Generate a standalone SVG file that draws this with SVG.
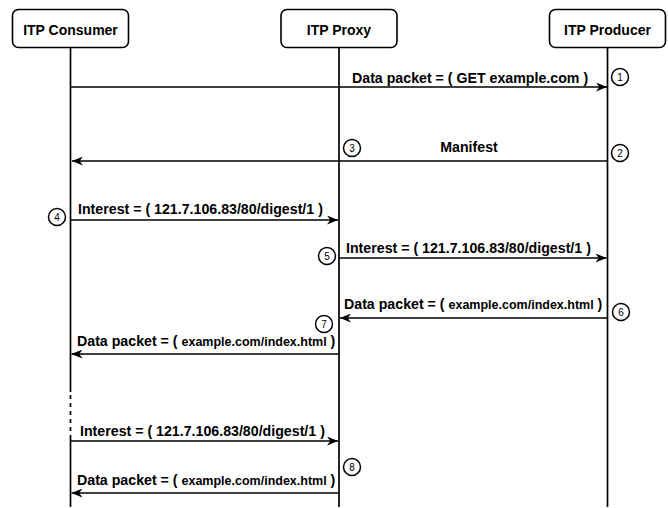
<svg xmlns="http://www.w3.org/2000/svg" width="668" height="508" viewBox="0 0 668 508">
<style>
.box{fill:#fff;stroke:#000;stroke-width:1.6}
.life{stroke:#000;stroke-width:1.7;fill:none}
.dash{stroke:#000;stroke-width:1.7;fill:none;stroke-dasharray:4 4}
.title{font-family:"Liberation Sans",Arial,sans-serif;font-weight:bold;font-size:14px;text-anchor:middle;fill:#000}
.msg{stroke:#000;stroke-width:1.7;fill:none;marker-end:url(#arr)}
.lbl{font-family:"Liberation Sans",Arial,sans-serif;font-weight:bold;font-size:14.2px;fill:#000}
.sm{font-size:12.5px}
.num circle{fill:#fff;stroke:#000;stroke-width:1.5}
.num text{font-family:"Liberation Sans",Arial,sans-serif;font-size:10px;text-anchor:middle;fill:#000}
</style>
<defs>
<marker id="arr" viewBox="0 0 11 9" refX="11" refY="4.5" markerWidth="11" markerHeight="9" markerUnits="userSpaceOnUse" orient="auto">
<path d="M0,0 L11,4.5 L0,9 L3.3,4.5 Z" fill="#000"/>
</marker>
</defs>
<rect width="668" height="508" fill="#fff"/>
<g id="consumer">
<line class="life" x1="70.5" y1="48" x2="70.5" y2="392"/>
<line class="dash" x1="70.5" y1="395" x2="70.5" y2="437"/>
<line class="life" x1="70.5" y1="437" x2="70.5" y2="507"/>
<rect class="box" x="12.5" y="9.5" width="116" height="38" rx="6"/>
<text class="title" x="70.5" y="35">ITP Consumer</text>
</g>
<g id="proxy">
<line class="life" x1="339" y1="48" x2="339" y2="507"/>
<rect class="box" x="281" y="9.5" width="116" height="38" rx="6"/>
<text class="title" x="339" y="35">ITP Proxy</text>
</g>
<g id="producer">
<line class="life" x1="607.5" y1="48" x2="607.5" y2="507"/>
<rect class="box" x="549.5" y="9.5" width="116" height="38" rx="6"/>
<text class="title" x="607.5" y="35">ITP Producer</text>
</g>
<g id="connectors">
<line class="msg" x1="70.5" y1="87" x2="607" y2="87"/>
<text class="lbl" x="352" y="83">Data packet = ( GET example.com )</text>
<line class="msg" x1="607.5" y1="161" x2="72" y2="161"/>
<text class="lbl" x="469" y="152" text-anchor="middle">Manifest</text>
<line class="msg" x1="70.5" y1="220" x2="338" y2="220"/>
<text class="lbl" x="78" y="214">Interest = ( 121.7.106.83/80/digest/1 )</text>
<line class="msg" x1="339" y1="258" x2="606.5" y2="258"/>
<text class="lbl" x="346" y="253">Interest = ( 121.7.106.83/80/digest/1 )</text>
<line class="msg" x1="607.5" y1="318" x2="340" y2="318"/>
<text class="lbl" x="344" y="309">Data packet = ( <tspan class="sm">example.com/index.html</tspan> )</text>
<line class="msg" x1="339" y1="354" x2="71.5" y2="354"/>
<text class="lbl" x="77" y="346">Data packet = ( <tspan class="sm">example.com/index.html</tspan> )</text>
<line class="msg" x1="70.5" y1="441" x2="338" y2="441"/>
<text class="lbl" x="80" y="436">Interest = ( 121.7.106.83/80/digest/1 )</text>
<line class="msg" x1="339" y1="493" x2="71.5" y2="493"/>
<text class="lbl" x="77" y="485">Data packet = ( <tspan class="sm">example.com/index.html</tspan> )</text>
</g>
<g id="step1" class="num"><circle cx="620" cy="77" r="8.5"/><text x="620" y="80.5">1</text></g>
<g id="step2" class="num"><circle cx="620" cy="153" r="8.5"/><text x="620" y="156.5">2</text></g>
<g id="step3" class="num"><circle cx="352" cy="148" r="8.5"/><text x="352" y="151.5">3</text></g>
<g id="step4" class="num"><circle cx="57" cy="217" r="8.5"/><text x="57" y="220.5">4</text></g>
<g id="step5" class="num"><circle cx="327" cy="256" r="8.5"/><text x="327" y="259.5">5</text></g>
<g id="step6" class="num"><circle cx="621" cy="312" r="8.5"/><text x="621" y="315.5">6</text></g>
<g id="step7" class="num"><circle cx="324" cy="324" r="8.5"/><text x="324" y="327.5">7</text></g>
<g id="step8" class="num"><circle cx="352" cy="467" r="8.5"/><text x="352" y="470.5">8</text></g>
</svg>
